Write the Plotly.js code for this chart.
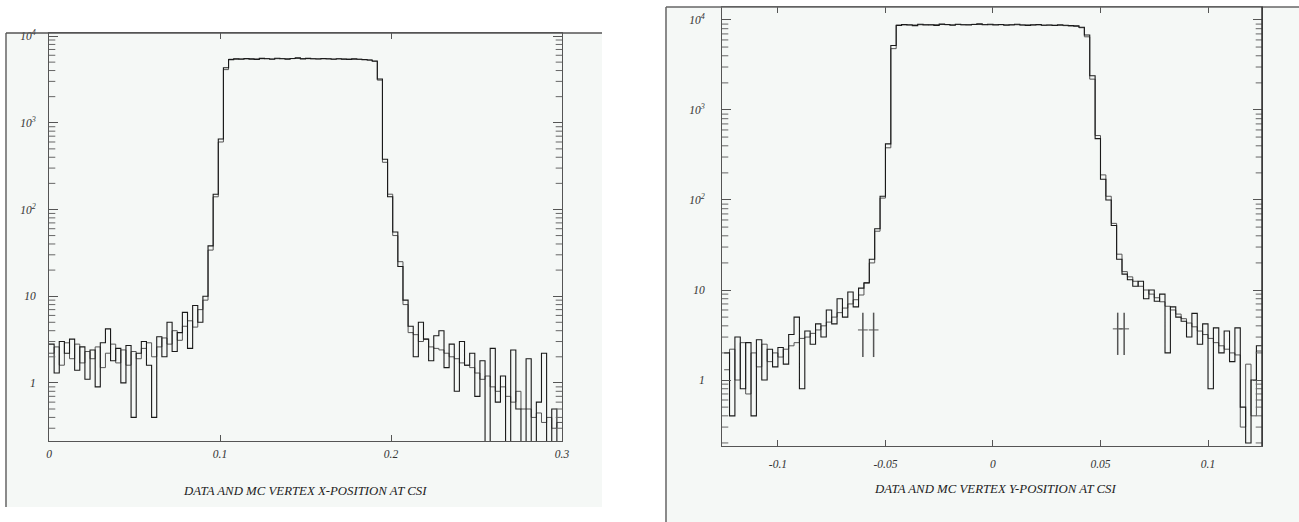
<!DOCTYPE html>
<html>
<head>
<meta charset="utf-8">
<script src="https://cdn.plot.ly/plotly-3.0.1.min.js"></script>
<style>html,body{margin:0;padding:0;background:#fff;}#chart{width:1299px;height:522px;}</style>
</head>
<body>
<div id="chart"></div>
<script>
// ---------------- DATA ----------------
// Left panel: vertex X position, bins of 0.003 from 0 to 0.3 (100 bins)
const xBinStart = 0.0;
const xBinWidth = 0.003;
const xDataCounts = [
  2.8,1.3,3.0,2.2,3.2,1.4,2.6,1.1,2.4,0.9,
  2.9,4.2,1.8,2.5,1.0,2.7,0.4,2.2,3.0,1.6,
  0.4,3.4,2.0,5.0,2.3,3.8,6.5,2.5,7.8,5.0,
  10,38,150,650,4300,
  5350,5450,5400,5500,5420,5380,5520,5460,5400,5550,
  5480,5420,5500,5600,5450,5520,5480,5430,5510,5460,
  5400,5470,5420,5380,5450,5400,5350,5300,5150,
  3200,380,140,55,22,9,
  4.5,2.0,5.0,3.2,1.8,3.5,4.0,1.5,2.8,0.8,
  3.0,1.6,2.2,0.7,1.8,0,2.5,0.6,1.2,0,
  2.4,0.5,0,1.9,0,0.6,2.2,0,0.5,0
];
const xMcCounts = [
  2.2,2.6,1.6,2.9,1.9,2.8,1.7,2.3,1.9,2.6,
  1.5,2.2,2.8,1.7,2.4,1.6,2.3,1.9,2.5,2.9,
  2.0,2.6,3.3,2.8,4.0,3.1,4.5,5.2,4.4,7.0,
  9,34,140,600,4100,
  5400,5420,5460,5440,5480,5430,5470,5500,5450,5480,
  5500,5460,5490,5520,5500,5480,5470,5460,5450,5440,
  5430,5450,5420,5410,5400,5390,5360,5280,5100,
  3100,350,150,50,25,8,
  3.8,3.6,3.0,3.2,2.6,2.5,2.4,2.2,2.0,1.9,
  1.7,1.6,1.5,1.3,1.1,1.2,0.9,0.8,0.9,0.7,
  0.6,0.8,0.5,0.5,0.4,0.45,0.35,0.4,0.3,0.35
];
// Right panel: vertex Y position, bins of 0.0025 from -0.125 to 0.125 (100 bins)
const yBinStart = -0.125;
const yBinWidth = 0.0025;
const yDataCounts = [
  2.0,0.4,3.0,0.8,2.6,0.4,2.8,1.0,2.2,1.4,
  2.3,1.5,3.2,5.0,0.8,3.5,2.5,4.2,3.0,6.0,
  4.2,8.0,5.0,9.5,6.5,10.5,
  12,22,48,110,420,5200,
  8700,8900,8800,8650,8950,8800,8850,8700,9000,8900,
  8750,8950,8850,8800,8900,9050,8850,8950,8800,8900,
  8750,8850,8950,8800,8700,8850,8900,8750,8800,8700,
  8850,8750,8650,8600,8300,
  6800,2400,480,170,100,52,22,
  15,13,11,12.5,8,10,7.5,9,2.0,6.5,
  5,4.5,3,5.5,2.5,4.2,0.8,3.8,2.0,3.5,
  1.6,3.8,0.5,0.2,1.0,2.4
];
const yMcCounts = [
  1.3,2.2,1.0,2.6,0.7,2.0,1.4,2.5,1.6,2.0,
  1.8,2.2,2.4,2.6,2.9,3.0,3.3,3.6,4.0,4.4,
  5.0,5.6,6.3,7.0,7.8,8.8,
  12,20,45,105,380,4800,
  8750,8800,8850,8800,8850,8900,8800,8850,8900,8850,
  8850,8900,8850,8900,8950,8900,8900,8850,8900,8850,
  8850,8800,8850,8800,8800,8750,8800,8750,8750,8700,
  8700,8650,8600,8500,8200,
  6500,2200,520,190,110,55,25,
  16,14,12.5,11,10,9,8.2,7.4,6.6,6.0,
  5.4,4.8,4.3,3.9,3.5,3.2,2.9,2.6,2.4,2.2,
  2.0,1.9,0.3,1.5,0.4,2.1
];
// isolated points with error bars near the Y-panel shoulders
const yFlagX = [-0.0605, -0.0555, 0.058, 0.061];
const yFlagVal = [3.6, 3.6, 3.7, 3.7];
const yFlagErrHi = [2.0, 2.0, 1.9, 1.9];
const yFlagErrLo = [1.8, 1.8, 1.8, 1.8];

const xTickVals = [0, 0.1, 0.2, 0.3];
const xTickText = ['0', '0.1', '0.2', '0.3'];
const yTickVals = [-0.1, -0.05, 0, 0.05, 0.1];
const yTickText = ['-0.1', '-0.05', '0', '0.05', '0.1'];
const decadeVals = [1, 10, 100, 1000, 10000];
const decadeText = ['1', '10', '10<sup>2</sup>', '10<sup>3</sup>', '10<sup>4</sup>'];
const xTitle = 'DATA AND MC VERTEX X-POSITION AT CSI';
const yTitle = 'DATA AND MC VERTEX Y-POSITION AT CSI';

// ---------------- BUILD ----------------
const W = 1299, H = 522;
const px = v => v / W;
const py = v => 1 - v / H;
const FLOOR = 1e-3; // empty bins drop below the axis floor
const LEFT_X_RANGE = [0, 0.3], LEFT_Y_RANGE = [-0.67, 4.035];
const RIGHT_X_RANGE = [-0.126, 0.1251], RIGHT_Y_RANGE = [-0.733, 4.144];

function stepXY(start, width, counts) {
  const xs = [], ys = [];
  counts.forEach((c, i) => { xs.push(start + i * width); ys.push(c > 0 ? c : FLOOR); });
  xs.push(start + counts.length * width);
  ys.push(ys[ys.length - 1]);
  return {xs, ys};
}
// minor log ticks (2..9 per decade), drawn as half-clipped dashes on the frame edges
function minorTicks(xRange, yRange, xa, ya) {
  const xs = [], ys = [];
  [0.1, 1, 10, 100, 1000, 10000].forEach(d => {
    for (let k = 2; k <= 9; k++) {
      const v = k * d, l = Math.log10(v);
      if (l > yRange[0] && l < yRange[1]) { xs.push(xRange[0], xRange[1]); ys.push(v, v); }
    }
  });
  return {x: xs, y: ys, xaxis: xa, yaxis: ya, mode: 'markers', cliponaxis: true,
    marker: {symbol: 'line-ew', size: 9, line: {color: '#666', width: 1}}, hoverinfo: 'skip'};
}

const lx = stepXY(xBinStart, xBinWidth, xDataCounts);
const lm = stepXY(xBinStart, xBinWidth, xMcCounts);
const rx = stepXY(yBinStart, yBinWidth, yDataCounts);
const rm = stepXY(yBinStart, yBinWidth, yMcCounts);

const tickFont = {family: 'Liberation Serif', size: 11.5, color: '#333', style: 'italic'};

const traces = [
  {x: lm.xs, y: lm.ys, xaxis: 'x', yaxis: 'y', mode: 'lines', line: {shape: 'hv', color: '#555', width: 1}, hoverinfo: 'skip'},
  {x: lx.xs, y: lx.ys, xaxis: 'x', yaxis: 'y', mode: 'lines', line: {shape: 'hv', color: '#1a1a1a', width: 1.1}, hoverinfo: 'skip'},
  {x: rm.xs, y: rm.ys, xaxis: 'x2', yaxis: 'y2', mode: 'lines', line: {shape: 'hv', color: '#555', width: 1}, hoverinfo: 'skip'},
  {x: rx.xs, y: rx.ys, xaxis: 'x2', yaxis: 'y2', mode: 'lines', line: {shape: 'hv', color: '#1a1a1a', width: 1.1}, hoverinfo: 'skip'},
  {x: yFlagX, y: yFlagVal, xaxis: 'x2', yaxis: 'y2', mode: 'markers',
   marker: {symbol: 'line-ew', size: 7, line: {color: '#555', width: 1}},
   error_y: {type: 'data', symmetric: false, array: yFlagErrHi, arrayminus: yFlagErrLo, width: 0, color: '#555', thickness: 1.5}, hoverinfo: 'skip'},
  minorTicks(LEFT_X_RANGE, LEFT_Y_RANGE, 'x', 'y'),
  minorTicks(RIGHT_X_RANGE, RIGHT_Y_RANGE, 'x2', 'y2')
];

function xAxis(domain, range, vals, text, standoff) {
  return {domain, range, tickmode: 'array', tickvals: vals, ticktext: text, ticks: 'inside', ticklen: 6, tickcolor: '#555',
    showline: true, linecolor: '#555', linewidth: 1, mirror: 'ticks', showgrid: false, zeroline: false,
    tickfont: tickFont, ticklabelstandoff: standoff, fixedrange: true};
}
function yAxis(domain, range, anchor, standoff) {
  return {domain, range, type: 'log', anchor, tickmode: 'array', tickvals: decadeVals, ticktext: decadeText,
    ticks: 'inside', ticklen: 9, tickcolor: '#555', showline: true, linecolor: '#555', linewidth: 1, mirror: 'ticks',
    showgrid: false, zeroline: false, tickfont: tickFont, ticklabelstandoff: standoff, fixedrange: true};
}

const layout = {
  width: W, height: H, margin: {l: 0, r: 0, t: 0, b: 0},
  paper_bgcolor: '#ffffff', plot_bgcolor: 'rgba(0,0,0,0)', showlegend: false,
  xaxis: Object.assign(xAxis([px(49), px(562)], LEFT_X_RANGE, xTickVals, xTickText, 2), {anchor: 'y'}),
  yaxis: yAxis([py(441), py(33)], LEFT_Y_RANGE, 'x', 10),
  xaxis2: Object.assign(xAxis([px(722), px(1262)], RIGHT_X_RANGE, yTickVals, yTickText, 7), {anchor: 'y2'}),
  yaxis2: yAxis([py(446), py(7)], RIGHT_Y_RANGE, 'x2', 14),
  shapes: [
    {type: 'rect', xref: 'paper', yref: 'paper', x0: px(6), x1: px(602), y0: py(507), y1: py(33), fillcolor: '#f5f8f6', line: {width: 0}, layer: 'below'},
    {type: 'rect', xref: 'paper', yref: 'paper', x0: px(666), x1: px(1299), y0: py(522), y1: py(7), fillcolor: '#f5f8f6', line: {width: 0}, layer: 'below'},
    {type: 'line', xref: 'paper', yref: 'paper', x0: px(6), x1: px(6), y0: py(507), y1: py(33), line: {color: '#8a8a8a', width: 2}},
    {type: 'line', xref: 'paper', yref: 'paper', x0: px(6), x1: px(602), y0: py(33), y1: py(33), line: {color: '#555', width: 1.5}},
    {type: 'line', xref: 'paper', yref: 'paper', x0: px(666), x1: px(666), y0: py(522), y1: py(7), line: {color: '#8a8a8a', width: 2}},
    {type: 'line', xref: 'paper', yref: 'paper', x0: px(666), x1: px(1299), y0: py(7), y1: py(7), line: {color: '#666', width: 1.5}},
    {type: 'line', xref: 'paper', yref: 'paper', x0: px(1262), x1: px(1262), y0: py(446), y1: py(7), line: {color: '#333', width: 1.5}}
  ],
  annotations: [
    {text: xTitle, xref: 'paper', yref: 'paper', x: px(305), y: py(491), showarrow: false, xanchor: 'center', yanchor: 'middle',
     font: {family: 'Liberation Serif', size: 12.8, color: '#222', style: 'italic'}},
    {text: yTitle, xref: 'paper', yref: 'paper', x: px(995), y: py(489), showarrow: false, xanchor: 'center', yanchor: 'middle',
     font: {family: 'Liberation Serif', size: 12.8, color: '#222', style: 'italic'}}
  ]
};

Plotly.newPlot('chart', traces, layout, {staticPlot: true, displayModeBar: false});
</script>
</body>
</html>
